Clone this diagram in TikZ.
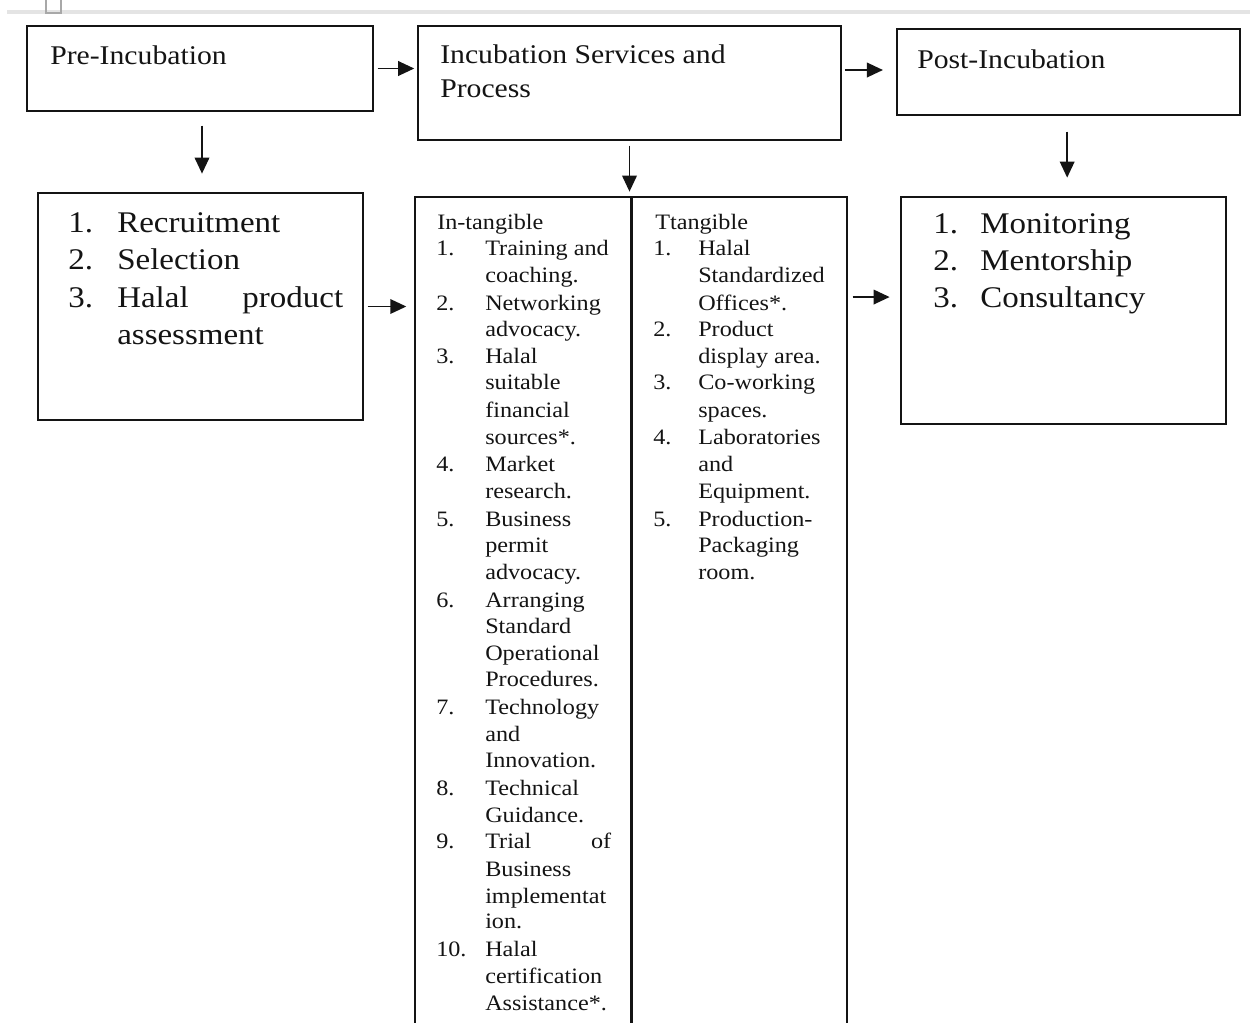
\documentclass[tikz,border=0pt]{standalone}
\usepackage{fontspec}
\setmainfont{Liberation Serif}[FakeStretch=1.1]
\usetikzlibrary{arrows.meta,fit}
\definecolor{ink}{HTML}{141414}
\definecolor{rulegray}{HTML}{E4E4E4}
\definecolor{markgray}{HTML}{A8A8A8}
\begin{document}
\begin{tikzpicture}[x=0.75pt,y=-0.75pt,
  box/.style={draw=ink, line width=1.1pt, inner sep=0pt},
  arr/.style={draw=ink, line width=1.1pt, -{Triangle[length=12pt,width=11pt]}},
  head/.style={anchor=base west, inner sep=0pt, font=\fontsize{20.25}{24}\selectfont, text=ink},
  big/.style={anchor=base west, inner sep=0pt, font=\fontsize{22.5}{27}\selectfont, text=ink},
  small/.style={anchor=base west, inner sep=0pt, font=\fontsize{16.5}{20}\selectfont, text=ink}]
\useasboundingbox (0,0) rectangle (1250,1022);
\clip (0,0) rectangle (1250,1022);
\fill[white] (0,0) rectangle (1250,1022);

% page rule and small marker
\fill[rulegray] (7,9.5) rectangle (1250,14);
\draw[markgray, line width=0.8pt] (46,-4) rectangle (61,13);

% stage boxes
\node[box, fit={(27,26) (373,111)}] (A) {};
\node[box, fit={(418,26) (841,140)}] (B) {};
\node[box, fit={(897,29) (1240,115)}] (C) {};
\node[box, fit={(38,193) (363,420)}] (D) {};
\node[box, fit={(415,197) (631,1040)}] (El) {};
\node[box, fit={(631,197) (847,1040)}] (Er) {};
\node[box, fit={(901,197) (1226,424)}] (F) {};
\draw[ink, line width=2.3pt] (El.north east) -- (El.south east);

% stage titles
\node[head] (tA) at (50,64) {Pre-Incubation};
\node[head] (tB1) at (440,63) {Incubation Services and};
\node[head] (tB2) at (440,97) {Process};
\node[head] (tC) at (917,68) {Post-Incubation};

% pre-incubation list
\node[big] (d1) at (68,232) {1.};
\node[big] (d2) at (68,269) {2.};
\node[big] (d3) at (68,307) {3.};
\node[big] (dt1) at (117,232) {Recruitment};
\node[big] (dt2) at (117,269) {Selection};
\node[big] (dt3) at (117,307) {\makebox[169.5pt][s]{Halal product}};
\node[big] (dt4) at (117,344) {assessment};

% post-incubation list
\node[big] (f1) at (933,233) {1.};
\node[big] (f2) at (933,270) {2.};
\node[big] (f3) at (933,307) {3.};
\node[big] (ft1) at (980,233) {Monitoring};
\node[big] (ft2) at (980,270) {Mentorship};
\node[big] (ft3) at (980,307) {Consultancy};

% intangible services
\node[small] (ih) at (437,229) {In-tangible};
\foreach \n/\y [count=\i] in {1./255, 2./310, 3./363, 4./471, 5./526, 6./607, 7./714, 8./795, 9./848, 10./956}
  \node[small] (in\i) at (436,\y) {\n};
\foreach \y/\t [count=\i] in {
  255/Training and, 282/coaching., 310/Networking, 336/advocacy.,
  363/Halal, 389/suitable, 417/financial, 444/sources*.,
  471/Market, 498/research., 526/Business, 552/permit, 579/advocacy.,
  607/Arranging, 633/Standard, 660/Operational, 686/Procedures.,
  714/Technology, 741/and, 767/Innovation., 795/Technical, 822/Guidance.,
  848/{\makebox[94.5pt][s]{Trial of}}, 876/Business, 903/implementat, 928/ion.,
  956/Halal, 983/certification, 1010/Assistance*.}
  \node[small] (it\i) at (485,\y) {\t};

% tangible services
\node[small] (th) at (655,229) {Ttangible};
\foreach \n/\y [count=\i] in {1./255, 2./336, 3./389, 4./444, 5./526}
  \node[small] (tn\i) at (653,\y) {\n};
\foreach \y/\t [count=\i] in {
  255/Halal, 282/Standardized, 310/Offices*., 336/Product, 363/display area.,
  389/Co-working, 417/spaces., 444/Laboratories, 471/and, 498/Equipment.,
  526/Production-, 552/Packaging, 579/room.}
  \node[small] (tt\i) at (698,\y) {\t};

% connectors
\draw[arr, shorten <=3pt, shorten >=2.3pt] (A.east) -- (A.east -| B.west);
\draw[arr, shorten <=2.3pt, shorten >=10pt] ([yshift=1.5pt]C.west -| B.east) -- ([yshift=1.5pt]C.west);
\draw[arr, shorten <=10.5pt, shorten >=14pt] ([xshift=1.5pt]A.south) -- ([xshift=1.5pt]A.south |- D.north);
\draw[arr, shorten <=3.7pt, shorten >=3.5pt] (B.south) -- (B.south |- El.north);
\draw[arr, shorten <=12pt, shorten >=14pt] ([xshift=-1pt]C.south) -- ([xshift=-1pt]C.south |- F.north);
\draw[arr, shorten <=3pt, shorten >=6pt] (D.east) -- (D.east -| El.west);
\draw[arr, shorten <=3.7pt, shorten >=8pt] ([yshift=10.1pt]F.west -| Er.east) -- ([yshift=10.1pt]F.west);
\end{tikzpicture}
\end{document}
